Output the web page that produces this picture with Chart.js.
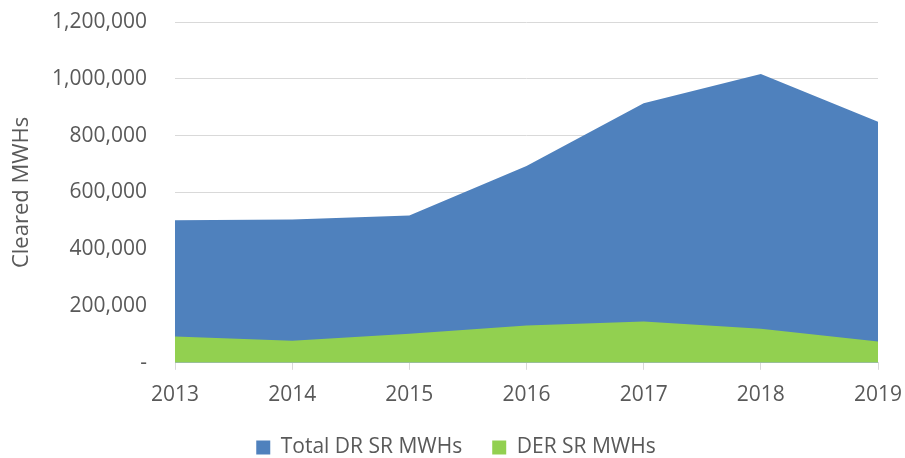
<!DOCTYPE html>
<html>
<head>
<meta charset="utf-8">
<script src="https://cdn.jsdelivr.net/npm/chart.js@4"></script>
<style>
  html, body { margin: 0; padding: 0; background: #fff; }
  #wrap { width: 905px; height: 458px; }
</style>
</head>
<body>
<div id="wrap"><canvas id="chart" width="905" height="458"></canvas></div>
<script>
// values
const years = ['2013', '2014', '2015', '2016', '2017', '2018', '2019'];
const totalDrSr = [502000, 505000, 519000, 693000, 914000, 1017000, 849000];
const derSr = [93000, 78000, 102000, 131000, 145000, 120000, 75000];
const yTicks = [0, 200000, 400000, 600000, 800000, 1000000, 1200000];

const grey = '#595959';
const font = "'Open Sans', 'Liberation Sans', sans-serif";

const ctx = document.getElementById('chart').getContext('2d');
new Chart(ctx, {
  type: 'line',
  data: {
    labels: years,
    datasets: [
      {
        label: 'Total DR SR MWHs',
        data: totalDrSr,
        backgroundColor: '#4f81bd',
        borderColor: '#4f81bd',
        borderWidth: 0,
        pointRadius: 0,
        fill: 'origin',
        tension: 0,
        order: 2
      },
      {
        label: 'DER SR MWHs',
        data: derSr,
        backgroundColor: '#92d050',
        borderColor: '#92d050',
        borderWidth: 0,
        pointRadius: 0,
        fill: 'origin',
        tension: 0,
        order: 1
      }
    ]
  },
  options: {
    responsive: false,
    animation: false,
    // left padding keeps the legend centred where the reference has it
    layout: { padding: { left: 34, right: 27, top: 22, bottom: -10 } },
    plugins: {
      tooltip: { enabled: false },
      legend: {
        position: 'bottom',
        labels: {
          color: grey,
          font: { family: font, size: 21 },
          boxWidth: 14,
          boxHeight: 14,
          padding: 30,
          sort: (a, b) => a.datasetIndex - b.datasetIndex
        }
      }
    },
    scales: {
      x: {
        offset: false,
        afterFit: axis => {
          axis.height -= 14;
          axis.paddingLeft = 0;
          axis.paddingRight = 0;
        },
        grid: {
          display: true,
          drawOnChartArea: false,
          drawTicks: true,
          tickLength: 7,
          color: '#d9d9d9'
        },
        border: { color: '#d9d9d9', width: 1 },
        ticks: {
          color: grey,
          font: { family: font, size: 21 },
          padding: 13,
          maxRotation: 0
        }
      },
      y: {
        min: 0,
        max: 1200000,
        afterBuildTicks: axis => { axis.ticks = yTicks.map(v => ({ value: v })); },
        afterFit: axis => {
          axis.width = 141;
          axis.paddingTop = 0;
          axis.paddingBottom = 0;
        },
        grid: { color: '#d9d9d9', drawTicks: false },
        border: { display: false },
        ticks: {
          color: grey,
          font: { family: font, size: 21 },
          padding: 28,
          callback: v => v === 0 ? '-' : v.toLocaleString('en-US')
        },
        title: {
          display: true,
          text: 'Cleared MWHs',
          color: grey,
          font: { family: font, size: 22 },
          padding: { top: -25, bottom: 0 }
        }
      }
    }
  }
});
</script>
</body>
</html>
